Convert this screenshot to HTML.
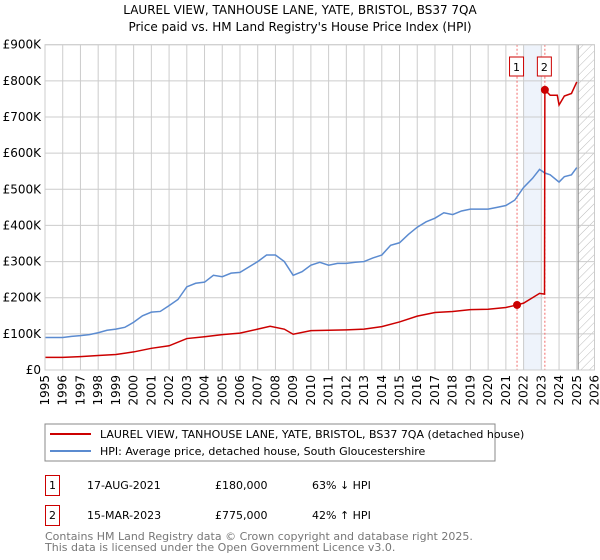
<!DOCTYPE html>
<html><head><meta charset="utf-8"><style>
body{margin:0;background:#fff;}
svg{display:block;font-family:"DejaVu Sans","Liberation Sans",sans-serif;}
</style></head><body>
<svg id="chart" width="600" height="560" viewBox="0 0 600 560">
<defs><pattern id="hatch" width="6" height="6" patternUnits="userSpaceOnUse" patternTransform="rotate(45)"><line x1="0" y1="0" x2="0" y2="6" stroke="#bbb" stroke-width="1"/></pattern></defs>
<text x="300" y="14" text-anchor="middle" font-size="12">LAUREL VIEW, TANHOUSE LANE, YATE, BRISTOL, BS37 7QA</text>
<text x="300" y="31" text-anchor="middle" font-size="12">Price paid vs. HM Land Registry's House Price Index (HPI)</text>
<g id="grid"></g><g id="marks"></g><g id="axes"></g>
<rect x="45" y="424" width="450" height="37" fill="#fff" stroke="#888"/>
<line x1="50" y1="434" x2="91" y2="434" stroke="#cc0000" stroke-width="2"/>
<text x="100" y="438" font-size="11">LAUREL VIEW, TANHOUSE LANE, YATE, BRISTOL, BS37 7QA (detached house)</text>
<line x1="50" y1="451" x2="91" y2="451" stroke="#5b8bd0" stroke-width="2"/>
<text x="100" y="455" font-size="11">HPI: Average price, detached house, South Gloucestershire</text>
<g font-size="11">
<rect x="45.5" y="475.5" width="14" height="20" fill="none" stroke="#cc0000"/>
<text x="52.5" y="489" text-anchor="middle">1</text>
<text x="87" y="489">17-AUG-2021</text>
<text x="215" y="489">£180,000</text>
<text x="312" y="489">63% ↓ HPI</text>
<rect x="45.5" y="505.5" width="14" height="20" fill="none" stroke="#cc0000"/>
<text x="52.5" y="519" text-anchor="middle">2</text>
<text x="87" y="519">15-MAR-2023</text>
<text x="215" y="519">£775,000</text>
<text x="312" y="519">42% ↑ HPI</text>
</g>
<text x="45" y="540" font-size="11" fill="#777">Contains HM Land Registry data © Crown copyright and database right 2025.</text>
<text x="45" y="551" font-size="11" fill="#777">This data is licensed under the Open Government Licence v3.0.</text>
</svg>
<script>
const hpiYears=[1995,1995.5,1996,1996.5,1997,1997.5,1998,1998.5,1999,1999.5,2000,2000.5,2001,2001.5,2002,2002.5,2003,2003.5,2004,2004.5,2005,2005.5,2006,2006.5,2007,2007.5,2008,2008.5,2009,2009.5,2010,2010.5,2011,2011.5,2012,2012.5,2013,2013.5,2014,2014.5,2015,2015.5,2016,2016.5,2017,2017.5,2018,2018.5,2019,2019.5,2020,2020.5,2021,2021.5,2022,2022.5,2022.9,2023.2,2023.5,2024,2024.3,2024.7,2025];
const hpiValues=[90,90,90,93,95,98,103,110,113,118,132,150,160,162,178,195,230,240,243,262,258,268,270,285,300,318,318,300,262,272,290,298,290,295,295,298,300,310,318,345,352,375,395,410,420,435,430,440,445,445,445,450,455,470,505,530,555,545,540,520,535,540,560];
const redYears=[1995,1996,1997,1998,1999,2000,2001,2002,2003,2004,2005,2006,2007,2007.7,2008.5,2009,2010,2011,2012,2013,2014,2015,2016,2017,2018,2019,2020,2021,2021.63,2022,2022.5,2022.9,2023.18,2023.2,2023.5,2023.9,2024,2024.3,2024.7,2025];
const redValues=[35,35,37,40,43,50,60,67,87,92,98,102,113,121,113,99,109,110,111,113,120,133,149,159,162,167,168,173,180,185,200,212,210,775,760,760,733,758,765,797];
const saleYears=[2021.63,2023.2];
const saleValues=[180,775];
const yTicks=[0,100,200,300,400,500,600,700,800,900];
const yTickLabels=["£0","£100K","£200K","£300K","£400K","£500K","£600K","£700K","£800K","£900K"];
const xTicks=[1995,1996,1997,1998,1999,2000,2001,2002,2003,2004,2005,2006,2007,2008,2009,2010,2011,2012,2013,2014,2015,2016,2017,2018,2019,2020,2021,2022,2023,2024,2025,2026];
const NS="http://www.w3.org/2000/svg";
const X0=45,X1=594.5,Y0=370,Y1=44.7;
const xs=v=>X0+(v-1995)/(2026-1995)*(X1-X0);
const ys=v=>Y0-v/900*(Y0-Y1);
function mk(tag,attrs,parent){const e=document.createElementNS(NS,tag);for(const k in attrs)e.setAttribute(k,attrs[k]);parent.appendChild(e);return e;}
const grid=document.getElementById('grid'),marks=document.getElementById('marks'),axes=document.getElementById('axes');
// shaded band & hatch
let band=mk('rect',{x:xs(2022),y:Y1,width:xs(2023.05)-xs(2022),height:Y0-Y1,fill:'#eef3fb'},grid);


let hat=mk('rect',{x:xs(2025.1),y:Y1,width:X1-xs(2025.1),height:Y0-Y1,fill:'url(#hatch)'},grid);


yTicks.forEach((t,i)=>{
  let l=mk('line',{x1:X0,x2:X1,y1:ys(t),y2:ys(t),stroke:'#ccc'},grid);
  
  
  let tx=mk('text',{x:X0-4,y:ys(t)+4,'text-anchor':'end','font-size':'12'},axes);
  tx.textContent=yTickLabels[i];
  
  
});
xTicks.forEach(t=>{
  let l=mk('line',{x1:xs(t),x2:xs(t),y1:Y1,y2:Y0,stroke:'#ccc'},grid);
  
  
  let tx=mk('text',{x:0,y:0,'text-anchor':'end','font-size':'12',transform:`translate(${xs(t)+4},${Y0+5}) rotate(-90)`},axes);
  tx.textContent=t;
  
  
});
let vl=mk('line',{x1:xs(2025.08),x2:xs(2025.08),y1:Y1,y2:Y0,stroke:'#888'},grid);


saleYears.forEach((s,i)=>{
  let d=mk('line',{x1:xs(s),x2:xs(s),y1:Y1,y2:Y0,stroke:'#f26b6b','stroke-dasharray':'2,2'},grid);
  
  
  let b=mk('rect',{x:xs(s)-7.5,y:57,width:14,height:19,fill:'#fff',stroke:'#cc0000'},marks);
  
  
  let t=mk('text',{x:xs(s)-0.5,y:71,'text-anchor':'middle','font-size':'11'},marks);
  t.textContent=String(i+1);
  
  
});
let hp=mk('polyline',{points:hpiYears.map((y,i)=>xs(y)+','+ys(hpiValues[i])).join(' '),fill:'none',stroke:'#5b8bd0','stroke-width':1.5},marks);


let rp=mk('polyline',{points:redYears.map((y,i)=>xs(y)+','+ys(redValues[i])).join(' '),fill:'none',stroke:'#cc0000','stroke-width':1.5},marks);


saleYears.forEach((s,i)=>{
  let c=mk('circle',{cx:xs(s),cy:ys(saleValues[i]),r:4,fill:'#cc0000'},marks);
  
  
});
let fr=mk('rect',{x:X0,y:Y1,width:X1-X0,height:Y0-Y1,fill:'none',stroke:'#ccc'},axes);


</script>
</body></html>
